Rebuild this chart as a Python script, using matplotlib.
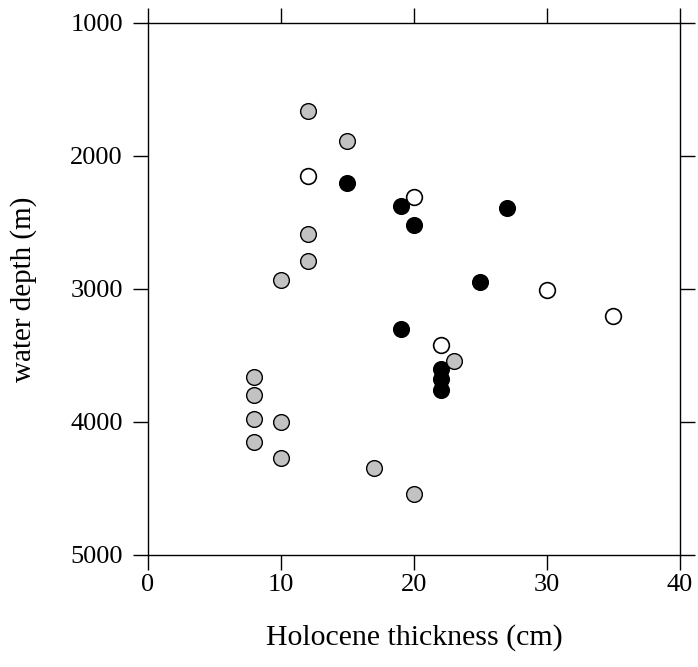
import matplotlib
matplotlib.use("Agg")
import matplotlib.pyplot as plt

# Holocene thickness (cm) vs water depth (m), three core groups
black_thickness = [15, 19, 27, 20, 25, 19, 22, 22, 22]
black_depth = [2200, 2380, 2390, 2520, 2950, 3300, 3600, 3680, 3760]

open_thickness = [12, 20, 30, 35, 22]
open_depth = [2150, 2310, 3010, 3200, 3420]

gray_thickness = [12, 15, 12, 12, 10, 23, 8, 8, 8, 10, 8, 10, 17, 20]
gray_depth = [1660, 1890, 2590, 2790, 2930, 3540, 3660, 3800, 3980, 4000,
              4150, 4270, 4345, 4540]

x_ticks = [0, 10, 20, 30, 40]
y_ticks = [1000, 2000, 3000, 4000, 5000]

plt.rcParams["font.family"] = ["Liberation Serif", "DejaVu Serif"]

fig = plt.figure(figsize=(6.98, 6.67), dpi=100)
ax = fig.add_axes([0.212, 0.168, 0.762, 0.7976])

ms = 128
ax.scatter(black_thickness, black_depth, s=ms, facecolor="black",
           edgecolor="black", linewidth=1.0, zorder=3)
ax.scatter(open_thickness, open_depth, s=ms, facecolor="white",
           edgecolor="black", linewidth=1.2, zorder=4)
ax.scatter(gray_thickness, gray_depth, s=ms, facecolor="#c2c2c2",
           edgecolor="black", linewidth=1.0, zorder=5)

ax.set_xlim(0, 40)
ax.set_ylim(5000, 1000)
ax.set_xticks(x_ticks)
ax.set_yticks(y_ticks)
ax.set_xticklabels([str(v) for v in x_ticks])
ax.set_yticklabels([str(v) for v in y_ticks])

ax.tick_params(axis="both", direction="out", length=11, width=1.0,
               labelsize=19, top=True, right=True, color="black")
ax.tick_params(axis="x", pad=3)
ax.tick_params(axis="y", pad=7)

for sp in ax.spines.values():
    sp.set_linewidth(1.0)
    sp.set_color("black")

ax.set_xlabel("Holocene thickness (cm)", fontsize=21.5, labelpad=20)
ax.set_ylabel("water depth (m)", fontsize=21, labelpad=24)

fig.savefig("out.png", dpi=100)
